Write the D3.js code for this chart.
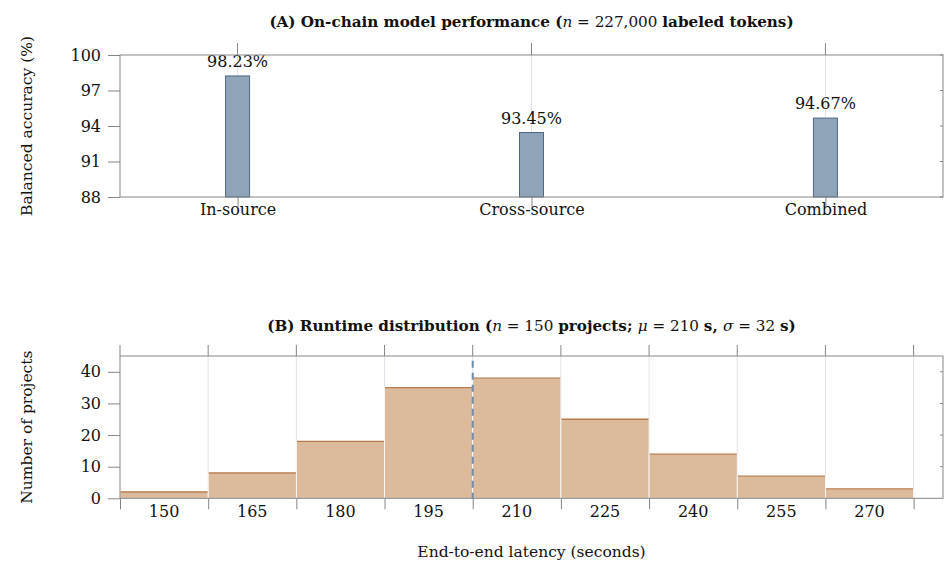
<!DOCTYPE html>
<html><head><meta charset="utf-8">
<script src="https://cdn.jsdelivr.net/npm/d3@7"></script>
<style>
body{margin:0;background:#fff;}
svg text{font-family:"DejaVu Serif",serif;fill:#111;}
</style></head>
<body><svg id="c" width="945" height="564"></svg>
<script>
// ---- data ----
const categories = ["In-source","Cross-source","Combined"];
const accuracy = [98.23, 93.45, 94.67];
const accTicks = [88,91,94,97,100];
const binStarts = [150,165,180,195,210,225,240,255,270];
const binCounts = [2,8,18,35,38,25,14,7,3];
const binWidth = 15;
const countTicks = [0,10,20,30,40];
const meanValue = 210;

const svg = d3.select("#c");
const axisColor = "#858585", gridColor = "#dfe2e9";
const L = 120, R = 943;
const FS = 16;

function title(g, x, y, parts){
  const t = g.append("text").attr("x",x).attr("y",y).attr("text-anchor","middle").style("font-size","15.2px");
  parts.forEach(p=>{
    t.append("tspan").text(p[0])
      .style("font-weight", p[1]==="b" ? "bold" : "normal")
      .style("font-style", p[1]==="i" ? "italic" : "normal");
  });
}

// ===== Panel A =====
{
  const T = 55, B = 197;
  const x = d3.scalePoint().domain(categories).range([L,R]).padding(0.4);
  const y = d3.scaleLinear().domain([88,100]).range([B,T]);
  const g = svg.append("g");
  g.selectAll(".grid").data(categories).join("line")
    .attr("x1",d=>x(d)).attr("x2",d=>x(d)).attr("y1",T).attr("y2",B)
    .attr("stroke",gridColor).attr("stroke-width",1);
  const bw = 24;
  g.selectAll(".bar").data(categories).join("rect")
    .attr("x",d=>x(d)-bw/2).attr("width",bw)
    .attr("y",(d,i)=>y(accuracy[i])).attr("height",(d,i)=>B-y(accuracy[i]))
    .attr("fill","#8fa4b8").attr("stroke","#4f6a86").attr("stroke-width",1);
  g.selectAll(".lab").data(categories).join("text")
    .attr("x",d=>x(d)).attr("y",(d,i)=>y(accuracy[i])-9)
    .attr("text-anchor","middle").style("font-size",FS+"px")
    .text((d,i)=>accuracy[i].toFixed(2)+"%");
  g.append("rect").attr("x",L).attr("y",T).attr("width",R-L).attr("height",B-T)
    .attr("fill","none").attr("stroke",axisColor).attr("stroke-width",1);
  const ya = d3.axisLeft(y).tickValues(accTicks).tickSize(12).tickPadding(7).tickFormat(d3.format("d"));
  const yg = g.append("g").attr("transform",`translate(${L},0)`).call(ya);
  yg.select(".domain").remove();
  yg.selectAll("line").attr("stroke",axisColor);
  yg.selectAll("text").style("font-size",FS+"px").style("font-family","DejaVu Serif").attr("fill","#111");
  g.selectAll(".rt").data(accTicks).join("line")
    .attr("x1",R-3).attr("x2",R).attr("y1",d=>y(d)).attr("y2",d=>y(d)).attr("stroke",axisColor);
  const xa = d3.axisBottom(x).tickSize(10).tickPadding(4);
  const xg = g.append("g").attr("transform",`translate(0,${B})`).call(xa);
  xg.select(".domain").remove();
  xg.selectAll("line").attr("stroke",axisColor);
  xg.selectAll("text").style("font-size",FS+"px").style("font-family","DejaVu Serif").attr("fill","#111")
    .attr("dy",null).attr("y",17.5);
  g.selectAll(".tt").data(categories).join("line")
    .attr("x1",d=>x(d)).attr("x2",d=>x(d)).attr("y1",T-12).attr("y2",T).attr("stroke",axisColor);
  g.append("text").attr("transform",`translate(32,${(T+B)/2}) rotate(-90)`)
    .attr("text-anchor","middle").style("font-size","15.5px").text("Balanced accuracy (%)");
  title(g, (L+R)/2, 27, [["(A) On-chain model performance (","b"],["n","i"],[" = 227,000 ","n"],["labeled tokens)","b"]]);
}

// ===== Panel B =====
{
  const T = 356, B = 498.3;
  const x = d3.scaleLinear().domain([150,290]).range([L,R]);
  const y = d3.scaleLinear().domain([0,45]).range([B,T]);
  const g = svg.append("g");
  const edges = binStarts.concat([binStarts[binStarts.length-1]+binWidth]);
  g.selectAll(".grid").data(edges.slice(1)).join("line")
    .attr("x1",d=>x(d)).attr("x2",d=>x(d)).attr("y1",T).attr("y2",B)
    .attr("stroke",gridColor).attr("stroke-width",1);
  g.selectAll(".bar").data(binStarts).join("rect")
    .attr("x",d=>x(d)).attr("width",d=>x(d+binWidth)-x(d))
    .attr("y",(d,i)=>y(binCounts[i])).attr("height",(d,i)=>B-y(binCounts[i]))
    .attr("fill","#dcba9c").attr("stroke","#ffffff").attr("stroke-width",0.8);
  g.selectAll(".top").data(binStarts).join("line")
    .attr("x1",d=>x(d)+0.5).attr("x2",d=>x(d+binWidth)-0.5)
    .attr("y1",(d,i)=>y(binCounts[i])).attr("y2",(d,i)=>y(binCounts[i]))
    .attr("stroke","#b87a4b").attr("stroke-width",1.3);
  g.append("line").attr("x1",x(meanValue)).attr("x2",x(meanValue))
    .attr("y1",y(43.5)).attr("y2",B)
    .attr("stroke","#6f8dab").attr("stroke-width",2).attr("stroke-dasharray","7,5");
  g.append("rect").attr("x",L).attr("y",T).attr("width",R-L).attr("height",B-T)
    .attr("fill","none").attr("stroke",axisColor).attr("stroke-width",1);
  const ya = d3.axisLeft(y).tickValues(countTicks).tickSize(12).tickPadding(7);
  const yg = g.append("g").attr("transform",`translate(${L},0)`).call(ya);
  yg.select(".domain").remove();
  yg.selectAll("line").attr("stroke",axisColor);
  yg.selectAll("text").style("font-size",FS+"px").style("font-family","DejaVu Serif").attr("fill","#111");
  g.selectAll(".rt").data(countTicks.slice(1)).join("line")
    .attr("x1",R-3).attr("x2",R).attr("y1",d=>y(d)).attr("y2",d=>y(d)).attr("stroke",axisColor);
  const xa = d3.axisBottom(x).tickValues(edges).tickSize(11).tickFormat("");
  const xg = g.append("g").attr("transform",`translate(0,${B})`).call(xa);
  xg.select(".domain").remove();
  xg.selectAll("line").attr("stroke",axisColor);
  g.selectAll(".tt").data(edges).join("line")
    .attr("x1",d=>x(d)).attr("x2",d=>x(d)).attr("y1",T-11).attr("y2",T).attr("stroke",axisColor);
  g.selectAll(".xl").data(binStarts).join("text")
    .attr("x",d=>x(d+binWidth/2)).attr("y",B+18.5)
    .attr("text-anchor","middle").style("font-size",FS+"px").text(d=>d);
  g.append("text").attr("transform",`translate(32,${(T+B)/2}) rotate(-90)`)
    .attr("text-anchor","middle").style("font-size","15.5px").text("Number of projects");
  g.append("text").attr("x",(L+R)/2).attr("y",557).attr("text-anchor","middle")
    .style("font-size","15.5px").text("End-to-end latency (seconds)");
  title(g, (L+R)/2, 331, [["(B) Runtime distribution (","b"],["n","i"],[" = 150 ","n"],["projects; ","b"],["μ","i"],[" = 210 ","n"],["s, ","b"],["σ","i"],[" = 32 ","n"],["s)","b"]]);
}
</script></body></html>
